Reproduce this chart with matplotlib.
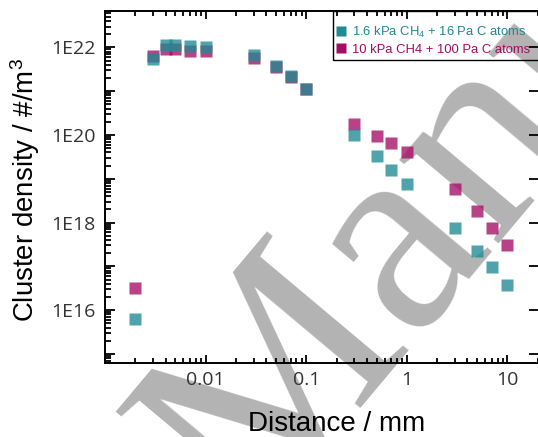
import matplotlib
matplotlib.use('Agg')
import matplotlib.pyplot as plt
import numpy as np
from matplotlib.ticker import LogLocator, FuncFormatter, NullFormatter, FixedLocator
from matplotlib.patches import Rectangle

plt.rcParams['mathtext.default'] = 'regular'

distance_mm = [0.002, 0.003, 0.004, 0.005, 0.007, 0.01, 0.03, 0.05, 0.07, 0.1,
               0.3, 0.5, 0.7, 1, 3, 5, 7, 10]
density_1p6kPa = [6.3e15, 5.5e21, 1.15e22, 1.15e22, 1.09e22, 1.05e22, 6.8e21, 3.7e21,
                  2.2e21, 1.15e21, 1.0e20, 3.3e19, 1.6e19, 7.6e18, 7.4e17, 2.2e17,
                  9.5e16, 3.7e16]
density_10kPa = [3.2e16, 6.5e21, 9.0e21, 9.0e21, 8.5e21, 8.5e21, 5.6e21, 3.5e21,
                 2.1e21, 1.15e21, 1.8e20, 9.4e19, 6.5e19, 4.0e19, 5.8e18, 1.8e18,
                 7.6e17, 3.0e17]
series_labels = [r'1.6 kPa CH$_4$ + 16 Pa C atoms', '10 kPa CH4 + 100 Pa C atoms']
x_ticks = [0.01, 0.1, 1, 10]
x_ticklabels = ['0.01', '0.1', '1', '10']

teal = '#1f8a93'
magenta = '#a30d63'

fig = plt.figure(figsize=(5.38, 4.37), dpi=100)
fig.patch.set_facecolor('white')

# watermark
fig.text(0.4647, -0.213, 'Manuscript', fontsize=204, family='Liberation Serif',
         color='#b3b3b3', rotation=50, rotation_mode='anchor',
         ha='left', va='baseline', zorder=-1)

ax = fig.add_axes([0.1952, 0.170, 0.8067, 0.8055])
ax.set_facecolor('none')
ax.set_xscale('log')
ax.set_yscale('log')
ax.set_xlim(1e-3, 20.6)
ax.set_ylim(6.3e14, 6.9e22)

ms = 8.3
ax.plot(distance_mm, density_10kPa, ls='none', marker='s', ms=ms,
        mfc=magenta, mec='none', alpha=0.78, zorder=3)
ax.plot(distance_mm, density_1p6kPa, ls='none', marker='s', ms=ms,
        mfc=teal, mec='none', alpha=0.78, zorder=4)

# legend frame (extends beyond the right edge like the original)
ax.add_patch(Rectangle((0.5242, 0.860), 0.6, 0.14, transform=ax.transAxes,
                       facecolor='none', edgecolor='black', lw=1.0, clip_on=False,
                       zorder=1))
lh1, = ax.plot([], [], ls='none', marker='s', ms=6.5, mfc=teal, mec='none')
lh2, = ax.plot([], [], ls='none', marker='s', ms=6.5, mfc=magenta, mec='none')
leg = ax.legend([lh1, lh2], series_labels, loc='upper left',
                bbox_to_anchor=(0.5242, 0.9685),
                prop={'family': 'Liberation Sans', 'size': 9.4}, frameon=False,
                handlelength=0.9, handletextpad=0.4,
                labelspacing=0.3, borderpad=0.2, borderaxespad=0)
for t, c in zip(leg.get_texts(), [teal, magenta]):
    t.set_color(c)

ax.xaxis.set_major_locator(FixedLocator(x_ticks))
ax.set_xticklabels(x_ticklabels)
ax.xaxis.set_minor_locator(LogLocator(base=10, subs=np.arange(2, 10), numticks=100))
ax.xaxis.set_minor_formatter(NullFormatter())

ax.yaxis.set_major_locator(LogLocator(base=10, subs=[1.0], numticks=100))
ax.yaxis.set_major_formatter(FuncFormatter(
    lambda v, p: ('1E%d' % round(np.log10(v))) if round(np.log10(v)) % 2 == 0 else ''))
ax.yaxis.set_minor_locator(LogLocator(base=10, subs=np.arange(2, 10), numticks=100))
ax.yaxis.set_minor_formatter(NullFormatter())

ax.tick_params(which='both', direction='in', top=True, right=True, colors='black',
               labelcolor='#333333', labelsize=14, width=1.3)
ax.tick_params(which='major', length=6, pad=6)
ax.tick_params(which='minor', length=3.5, right=False)
ax.tick_params(axis='y', which='major', length=7, pad=7)
ax.tick_params(axis='y', which='minor', length=4.5)
for lab in ax.get_xticklabels() + ax.get_yticklabels():
    lab.set_family('Open Sans')

for s in ax.spines.values():
    s.set_linewidth(1.4)

ax.set_xlabel('Distance / mm', family='Liberation Sans', fontsize=20, color='black')
ax.set_ylabel('Cluster density / #/m$^3$', family='Liberation Sans', fontsize=19.9,
              color='black')
ax.xaxis.set_label_coords(0.533, -0.136)
ax.yaxis.set_label_coords(-0.145, 0.49)

fig.savefig('out.png', dpi=100)
